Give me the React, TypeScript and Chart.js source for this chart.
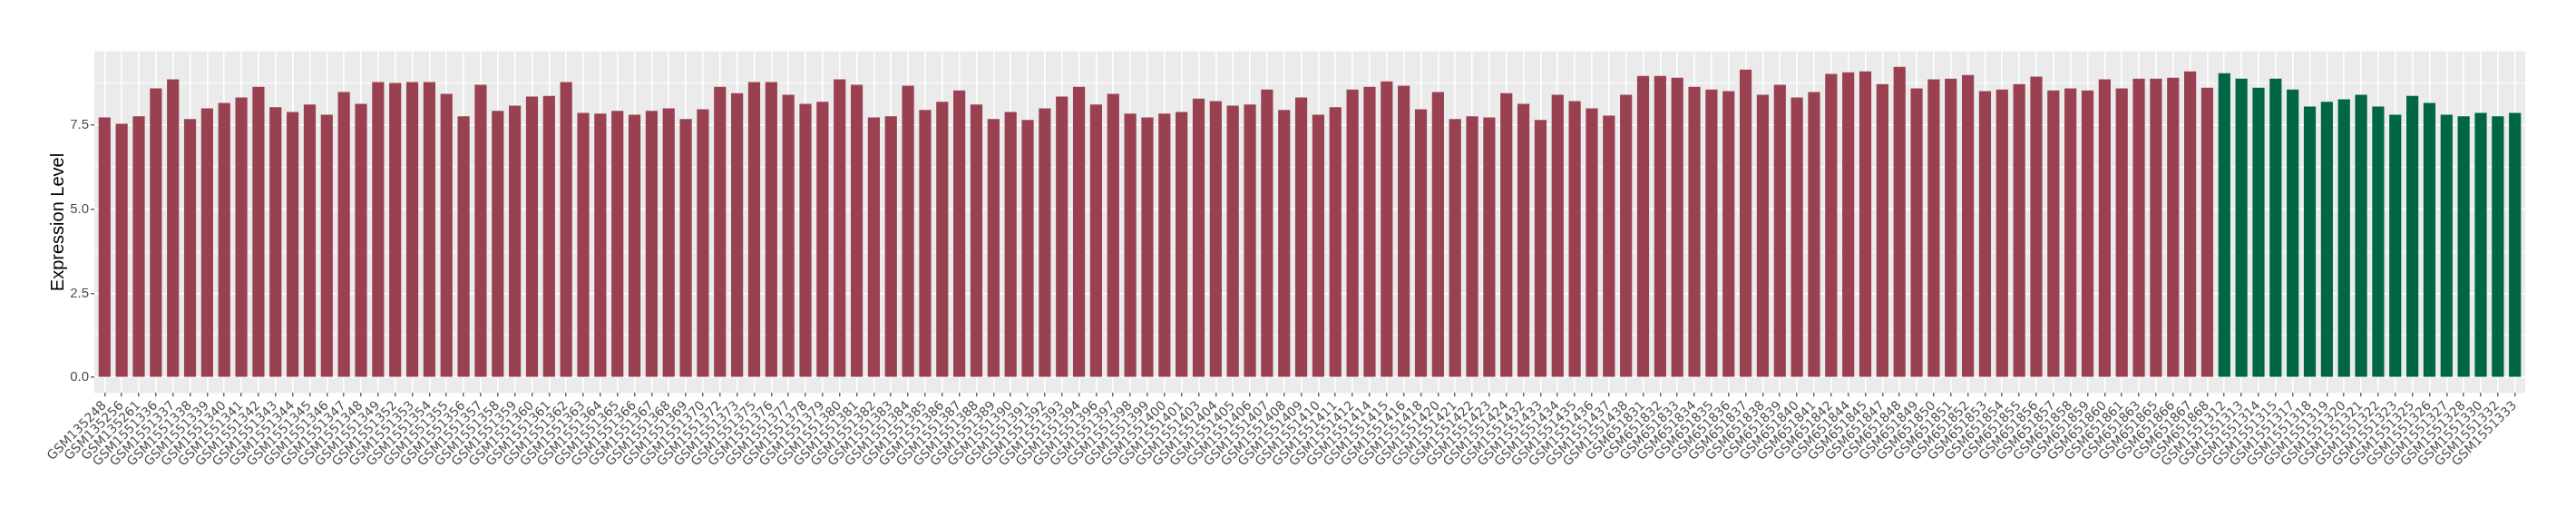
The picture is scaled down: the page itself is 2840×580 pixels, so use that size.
import React, { useEffect, useRef } from 'react';
import { Chart, registerables } from 'chart.js';

Chart.register(...registerables);

const groupASamples = [
  'GSM135248', 'GSM135256', 'GSM135261',
  'GSM1551336', 'GSM1551337', 'GSM1551338', 'GSM1551339', 'GSM1551340', 'GSM1551341', 'GSM1551342',
  'GSM1551343', 'GSM1551344', 'GSM1551345', 'GSM1551346', 'GSM1551347', 'GSM1551348', 'GSM1551349',
  'GSM1551352', 'GSM1551353', 'GSM1551354', 'GSM1551355', 'GSM1551356', 'GSM1551357', 'GSM1551358',
  'GSM1551359', 'GSM1551360', 'GSM1551361', 'GSM1551362', 'GSM1551363', 'GSM1551364', 'GSM1551365',
  'GSM1551366', 'GSM1551367', 'GSM1551368', 'GSM1551369', 'GSM1551370', 'GSM1551372', 'GSM1551373',
  'GSM1551375', 'GSM1551376', 'GSM1551377', 'GSM1551378', 'GSM1551379', 'GSM1551380', 'GSM1551381',
  'GSM1551382', 'GSM1551383', 'GSM1551384', 'GSM1551385', 'GSM1551386', 'GSM1551387', 'GSM1551388',
  'GSM1551389', 'GSM1551390', 'GSM1551391', 'GSM1551392', 'GSM1551393', 'GSM1551394', 'GSM1551396',
  'GSM1551397', 'GSM1551398', 'GSM1551399', 'GSM1551400', 'GSM1551401', 'GSM1551403', 'GSM1551404',
  'GSM1551405', 'GSM1551406', 'GSM1551407', 'GSM1551408', 'GSM1551409', 'GSM1551410', 'GSM1551411',
  'GSM1551412', 'GSM1551414', 'GSM1551415', 'GSM1551416', 'GSM1551418', 'GSM1551420', 'GSM1551421',
  'GSM1551422', 'GSM1551423', 'GSM1551424', 'GSM1551432', 'GSM1551433', 'GSM1551434', 'GSM1551435',
  'GSM1551436', 'GSM1551437', 'GSM1551438',
  'GSM651831', 'GSM651832', 'GSM651833', 'GSM651834', 'GSM651835', 'GSM651836', 'GSM651837',
  'GSM651838', 'GSM651839', 'GSM651840', 'GSM651841', 'GSM651842', 'GSM651844', 'GSM651845',
  'GSM651847', 'GSM651848', 'GSM651849', 'GSM651850', 'GSM651851', 'GSM651852', 'GSM651853',
  'GSM651854', 'GSM651855', 'GSM651856', 'GSM651857', 'GSM651858', 'GSM651859', 'GSM651860',
  'GSM651861', 'GSM651863', 'GSM651865', 'GSM651866', 'GSM651867', 'GSM651868',
];

const groupAValues = [
  7.74, 7.55, 7.77, 8.60, 8.87, 7.69, 8.01, 8.17, 8.33, 8.65, 8.04, 7.90, 8.12, 7.82, 8.49,
  8.14, 8.79, 8.76, 8.79, 8.79, 8.44, 7.77, 8.71, 7.93, 8.09, 8.36, 8.38, 8.79, 7.875,
  7.85, 7.93, 7.82, 7.93, 8.01, 7.69, 7.98, 8.65, 8.46, 8.79, 8.79, 8.41, 8.14, 8.20, 8.87,
  8.71, 7.74, 7.77, 8.68, 7.96, 8.20, 8.54, 8.12, 7.69, 7.90, 7.66, 8.01, 8.36,
  8.65, 8.12, 8.44, 7.85, 7.74, 7.85, 7.90, 8.30, 8.22, 8.09, 8.12, 8.57, 7.96, 8.33, 7.82,
  8.04, 8.57, 8.65, 8.81, 8.68, 7.98, 8.49, 7.69, 7.77, 7.74, 8.46, 8.14, 7.66,
  8.41, 8.22, 8.01, 7.79, 8.41, 8.97, 8.97, 8.92, 8.65, 8.57, 8.52, 9.16, 8.41, 8.71, 8.33,
  8.49, 9.03, 9.08, 9.11, 8.73, 9.24, 8.60, 8.87, 8.89, 9.00, 8.52, 8.57, 8.73, 8.95,
  8.54, 8.60, 8.54, 8.87, 8.60, 8.89, 8.89, 8.92, 9.11, 8.62,
];

const groupBSamples = [
  'GSM1551312', 'GSM1551313', 'GSM1551314', 'GSM1551315', 'GSM1551317', 'GSM1551318',
  'GSM1551319', 'GSM1551320', 'GSM1551321', 'GSM1551322', 'GSM1551323', 'GSM1551325',
  'GSM1551326', 'GSM1551327', 'GSM1551328', 'GSM1551330', 'GSM1551332', 'GSM1551333',
];

const groupBValues = [
  9.05, 8.89, 8.62, 8.89, 8.57, 8.06, 8.20, 8.28, 8.41, 8.06, 7.82, 8.38, 8.17, 7.82,
  7.77, 7.875, 7.77, 7.875,
];

const groupColors = ['#9A4151', '#006644'];

const yMajorTicks = [0, 2.5, 5.0, 7.5];
const yMajorLabels = ['0.0', '2.5', '5.0', '7.5'];
const yMinorTicks = [1.25, 3.75, 6.25, 8.75];

const allSamples = [...groupASamples, ...groupBSamples];
const allValues = [...groupAValues, ...groupBValues];
const allColors = [
  ...groupASamples.map(() => groupColors[0]),
  ...groupBSamples.map(() => groupColors[1]),
];

const panelBackground = {
  id: 'panelBackground',
  beforeDraw(chart: any) {
    const { ctx, chartArea: a } = chart;
    ctx.save();
    ctx.fillStyle = '#EBEBEB';
    ctx.fillRect(a.left, a.top, a.right - a.left, a.bottom - a.top);
    ctx.restore();
  },
};

export default function App() {
  const ref = useRef<HTMLCanvasElement>(null);

  useEffect(() => {
    const canvas = ref.current;
    if (!canvas) return;
    const n = allSamples.length;
    const chart = new Chart(canvas, {
      type: 'bar',
      data: {
        datasets: [
          {
            label: 'Expression Level',
            data: allValues.map((v, i) => ({ x: i, y: v })),
            backgroundColor: allColors,
            barPercentage: 0.7,
            categoryPercentage: 1,
            borderWidth: 0,
          },
        ],
      },
      plugins: [panelBackground],
      options: {
        animation: false,
        responsive: false,
        events: [],
        layout: { padding: { left: 0, right: 56, top: 56.7, bottom: 0 } },
        plugins: { legend: { display: false }, tooltip: { enabled: false }, title: { display: false } },
        scales: {
          x: {
            type: 'linear',
            min: -0.6,
            max: n - 1 + 0.6,
            offset: false,
            afterBuildTicks: (scale: any) => {
              scale.ticks = allSamples.map((_, i) => ({ value: i }));
            },
            afterTickToLabelConversion: (scale: any) => {
              scale.ticks = scale.ticks.filter(
                (t: any) => Number.isInteger(t.value) && t.value >= 0 && t.value < n && t.label,
              );
            },
            afterFit: (scale: any) => {
              scale.height = 146.7;
            },
            border: { display: false },
            grid: {
              offset: false,
              color: '#FFFFFF',
              lineWidth: 1.6,
              drawTicks: true,
              tickLength: 4,
              tickColor: '#333333',
              tickWidth: 1.1,
            },
            ticks: {
              autoSkip: false,
              maxRotation: 45,
              minRotation: 45,
              padding: 2,
              color: '#4D4D4D',
              font: { family: 'DejaVu Sans', size: 14 },
              callback: (value: any) => allSamples[Math.round(Number(value))] ?? '',
            },
          },
          y: {
            type: 'linear',
            min: -0.462,
            max: 9.702,
            afterBuildTicks: (scale: any) => {
              scale.ticks = [...yMajorTicks, ...yMinorTicks]
                .sort((a, b) => a - b)
                .map((v) => ({ value: v }));
            },
            afterFit: (scale: any) => {
              scale.width = 104;
            },
            border: { display: false },
            grid: {
              offset: false,
              color: '#FFFFFF',
              lineWidth: (ctx: any) => (yMajorTicks.includes(ctx.tick?.value) ? 1.6 : 0.8),
              drawTicks: true,
              tickLength: 4,
              tickColor: (ctx: any) => (yMajorTicks.includes(ctx.tick?.value) ? '#333333' : 'rgba(0,0,0,0)'),
              tickWidth: 1.1,
            },
            title: {
              display: true,
              text: 'Expression Level',
              color: '#000000',
              font: { family: 'Liberation Sans', size: 20 },
              padding: { top: 52, bottom: 0 },
            },
            ticks: {
              padding: 2,
              color: '#4D4D4D',
              font: { family: 'Liberation Sans', size: 15 },
              callback: (value: any) => {
                const idx = yMajorTicks.indexOf(Number(value));
                return idx >= 0 ? yMajorLabels[idx] : '';
              },
            },
          },
        },
      },
    } as any);
    return () => chart.destroy();
  }, []);

  return (
    <div style={{ position: 'fixed', left: 0, top: 0, width: 2840, height: 580, background: '#FFFFFF' }}>
      <canvas ref={ref} width={2840} height={580} style={{ display: 'block', width: 2840, height: 580 }} />
    </div>
  );
}
